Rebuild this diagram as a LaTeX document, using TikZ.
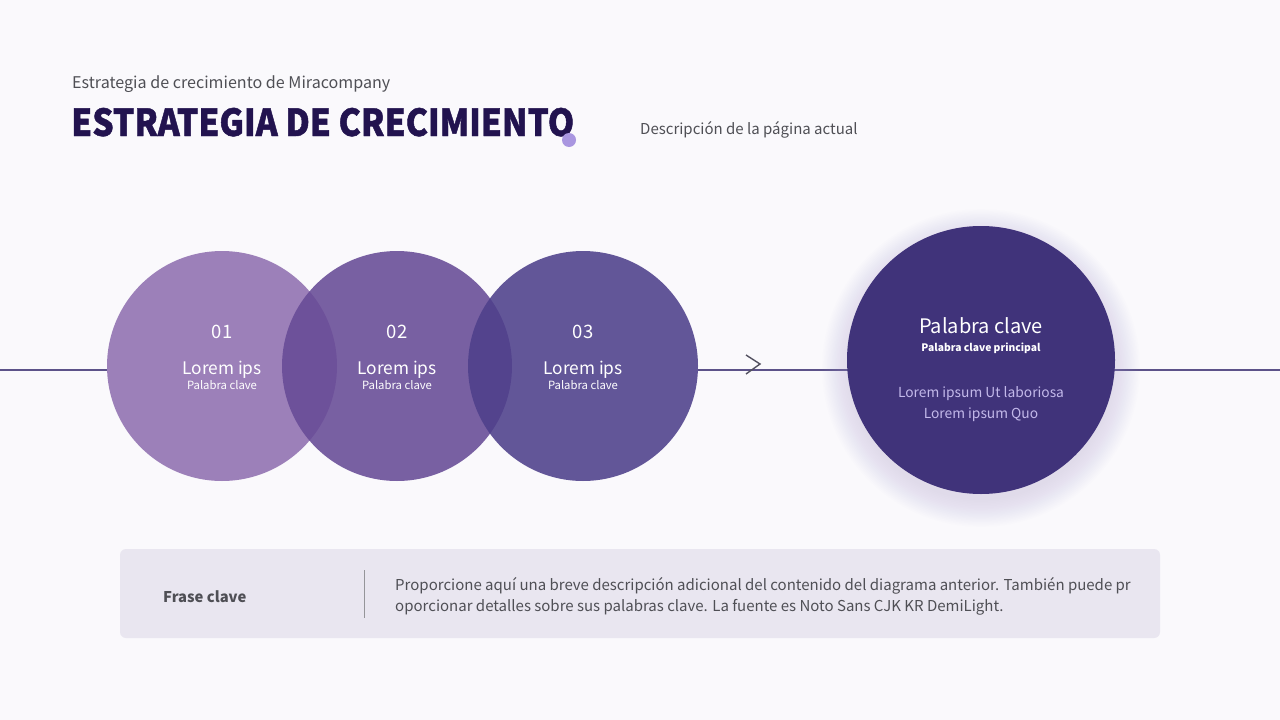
\documentclass[tikz,border=0pt]{standalone}
\usepackage{fontspec}
\setmainfont{Noto Sans CJK KR}
\newfontfamily\titlefont{Noto Sans CJK KR}[FakeStretch=0.9, FakeBold=1.2]
\usetikzlibrary{positioning}

\definecolor{bgcol}{HTML}{FAF9FC}
\definecolor{titlecol}{HTML}{22134F}
\definecolor{graytext}{HTML}{4F4F55}
\definecolor{dotcol}{HTML}{A996E0}
\definecolor{linecol}{HTML}{5C5289}
\definecolor{circA}{HTML}{9070B0}
\definecolor{circB}{HTML}{674B96}
\definecolor{circC}{HTML}{4E408B}
\definecolor{keycol}{HTML}{40337A}
\definecolor{glowcol}{HTML}{B7AEDC}
\definecolor{softtext}{HTML}{C3B9EA}
\definecolor{boxcol}{HTML}{E9E6F0}

\newcommand{\fsz}[1]{\fontsize{#1}{#1}\selectfont}

\tikzset{
  step circle/.style={circle, minimum size=230pt, inner sep=0pt, fill=#1, opacity=0.88},
  num label/.style={text=white, font=\fsz{18.5}},
  head label/.style={text=white, font=\fsz{17.3}},
  sub label/.style={text=white, font=\fsz{11.3}},
}

\begin{document}
\begin{tikzpicture}[x=1pt, y=-1pt]

    % Background
    \fill[bgcol] (0,0) rectangle (1280,720);
    \useasboundingbox (0,0) rectangle (1280,720);

    % Header
    \node[anchor=base west, inner sep=0pt, text=graytext, font=\fsz{16.1}] (sub) at (72,88) {Estrategia de crecimiento de Miracompany};
    \node[anchor=base west, inner sep=0pt, text=titlecol, font=\titlefont\bfseries\fsz{37.2}] (title) at (71,136) {ESTRATEGIA DE CRECIMIENTO};
    \fill[dotcol] (569,140) circle (7);
    \node[anchor=base west, inner sep=0pt, text=graytext, font=\fsz{15}] (desc) at (640,134) {Descripción de la página actual};

    % Line and arrow
    \coordinate (lineL) at (0,370);
    \coordinate (lineR) at (1280,370);
    \draw[linecol, line width=2pt] (lineL) -- (lineR);
    \draw[graytext!80!linecol, line width=1.4pt] (746,355) -- (760,364) -- (746,374);

    % Steps
    \foreach \n/\x in {A/222, B/397, C/583}
        \fill[bgcol] (\x,366) circle (115);
    \node[step circle=circA] (s1) at (222,366) {};
    \node[step circle=circB] (s2) at (397,366) {};
    \node[step circle=circC] (s3) at (583,366) {};

    \foreach \i/\x in {1/222, 2/397, 3/583} {
        \node[num label, anchor=base] at (\x,338) {0\i};
        \node[head label, anchor=base] at (\x,374) {Lorem ips};
        \node[sub label, anchor=base] at (\x,389) {Palabra clave};
    }

    % Key circle with glow
    \foreach \k in {1,...,18}
        \fill[glowcol, opacity=0.018] (981,368) circle (130+1.6*\k);
    \node[circle, minimum size=268pt, inner sep=0pt, fill=keycol] (key) at (981,360) {};
    \node[anchor=base, text=white, font=\fsz{20}] (keyhead) at (981,333) {Palabra clave};
    \node[anchor=base, text=white, font=\bfseries\fsz{10.3}] (keysub) at (981,351) {Palabra clave principal};
    \node[anchor=base, text=softtext, font=\fsz{13.8}, align=center] (keytext) at (981,418) {Lorem ipsum Ut laboriosa\\[5.5pt]Lorem ipsum Quo};

    % Bottom box
    \fill[boxcol, rounded corners=6pt] (120,549) rectangle (1160,638);
    \node[anchor=base west, inner sep=0pt, text=graytext, font=\bfseries\fsz{14.8}] (phrase) at (163,602) {Frase clave};
    \draw[graytext!60, line width=1pt] (364,570) -- (364,618);
    \node[anchor=base west, inner sep=0pt, text=graytext, font=\fsz{15}, align=left] (para) at (395,611)
        {Proporcione aquí una breve descripción adicional del contenido del diagrama anterior. También puede pr\\[3.5pt]oporcionar detalles sobre sus palabras clave. La fuente es Noto Sans CJK KR DemiLight.};

\end{tikzpicture}
\end{document}
